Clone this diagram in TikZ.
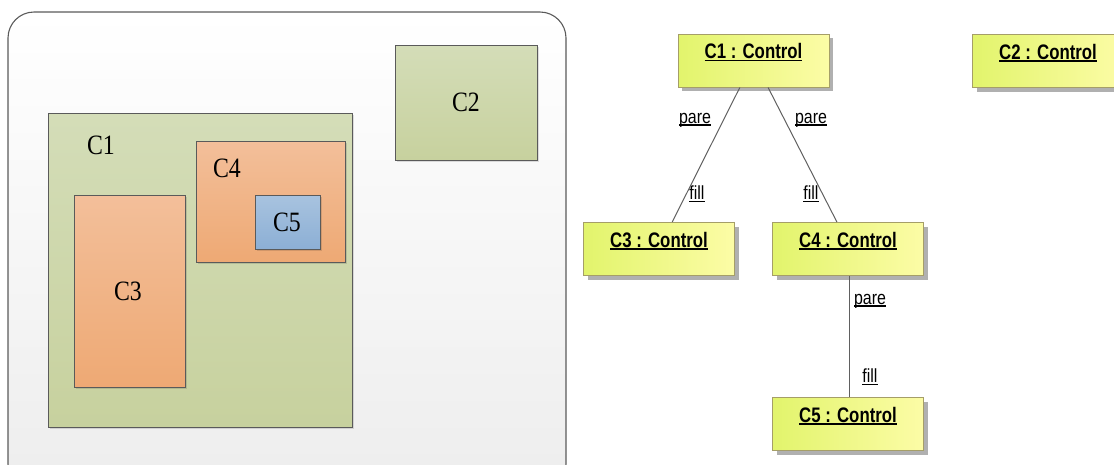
\documentclass[tikz,border=0pt]{standalone}
\usepackage{fontspec}
\setmainfont{Liberation Serif}[FakeStretch=0.85]
\newfontfamily\umlfont{Liberation Sans}[FakeStretch=0.80]
\newfontfamily\linkfont{Liberation Sans}[FakeStretch=0.84]
\usetikzlibrary{shadows,calc}

% underlined text with a thicker rule
\newcommand\ulabel[1]{\setbox0\hbox{#1}\rlap{\rule[-2.4pt]{\wd0}{1.5pt}}\box0}

\definecolor{edgegray}{HTML}{5A5A5A}
\definecolor{greentop}{HTML}{D4DDB8}
\definecolor{greenbot}{HTML}{C7D19E}
\definecolor{orangetop}{HTML}{F3BF9A}
\definecolor{orangebot}{HTML}{EEA974}
\definecolor{bluetop}{HTML}{A8C3DF}
\definecolor{bluebot}{HTML}{8CAFD5}
\definecolor{umlleft}{HTML}{E2F46C}
\definecolor{umlright}{HTML}{FCFCA6}
\definecolor{umlborder}{HTML}{A59E68}
\definecolor{umlshadow}{HTML}{B0B0B0}
\definecolor{linkgray}{HTML}{606060}

\tikzset{
  region/.style={draw=edgegray, line width=1pt, inner sep=0pt,
    drop shadow={shadow xshift=2pt, shadow yshift=-2pt, fill=black, opacity=0.12}},
  greenbox/.style={region, shading=axis, top color=greentop, bottom color=greenbot},
  orangebox/.style={region, shading=axis, top color=orangetop, bottom color=orangebot},
  bluebox/.style={region, shading=axis, top color=bluetop, bottom color=bluebot},
  regionlabel/.style={font=\fontsize{28}{30}\selectfont, inner sep=0pt},
  umlbox/.style={draw=umlborder, line width=1pt, inner sep=0pt,
    minimum width=151pt, minimum height=53pt,
    shading=axis, left color=umlleft, right color=umlright, shading angle=90,
    drop shadow={shadow xshift=4pt, shadow yshift=-4pt, fill=umlshadow, opacity=1}},
  umltext/.style={font=\umlfont\bfseries\fontsize{21}{23}\selectfont, inner sep=0pt},
  linklabel/.style={font=\linkfont\fontsize{19}{21}\selectfont, inner sep=0pt},
  link/.style={draw=linkgray, line width=1pt},
}

\begin{document}
\begin{tikzpicture}[x=1pt, y=-1pt]
\useasboundingbox (0,0) rectangle (1114,464);

% containment view
\draw[draw=edgegray, line width=1.1pt, rounded corners=26pt, shading=axis,
      top color=white, bottom color=black!7] (8,12) rectangle (566,490);

\node[greenbox, minimum width=304pt, minimum height=314pt] (r1) at (200,270) {};
\node[greenbox, minimum width=142pt, minimum height=115pt] (r2) at (466,102.5) {};
\node[orangebox, minimum width=111pt, minimum height=192pt] (r3) at (129.5,291) {};
\node[orangebox, minimum width=149pt, minimum height=121pt] (r4) at (270.5,201.5) {};
\node[bluebox, minimum width=65pt, minimum height=54pt] (r5) at (287.5,222) {};

\node[regionlabel] (l1) at (101,145) {C1};
\node[regionlabel] (l2) at (466,102) {C2};
\node[regionlabel] (l3) at (128,291) {C3};
\node[regionlabel] (l4) at (227,168) {C4};
\node[regionlabel] (l5) at (287,222) {C5};

% object view
\node[umlbox] (o1) at (753.5,60.5) {};
\node[umlbox] (o2) at (1048,61) {};
\node[umlbox] (o3) at (659,249) {};
\node[umlbox] (o4) at (848,249) {};
\node[umlbox] (o5) at (848,424) {};

\node[umltext] (t1) at ($(o1.north)+(0,19)$) {\ulabel{C1 : Control}};
\node[umltext] (t2) at ($(o2.north)+(0,19)$) {\ulabel{C2 : Control}};
\node[umltext] (t3) at ($(o3.north)+(0,19)$) {\ulabel{C3 : Control}};
\node[umltext] (t4) at ($(o4.north)+(0,19)$) {\ulabel{C4 : Control}};
\node[umltext] (t5) at ($(o5.north)+(0,19)$) {\ulabel{C5 : Control}};

\coordinate (c4foot) at ($(o4.south west)!0.507!(o4.south east)$);
\draw[link] ($(o1.south west)!0.41!(o1.south east)$) -- ($(o3.north west)!0.587!(o3.north east)$);
\draw[link] ($(o1.south west)!0.596!(o1.south east)$) -- ($(o4.north west)!0.427!(o4.north east)$);
\draw[link] (c4foot) -- (c4foot |- o5.north);

\node[linklabel] (p1) at (695,120) {\ulabel{pare}};
\node[linklabel] (p2) at (811,120) {\ulabel{pare}};
\node[linklabel] (p3) at (870,301) {\ulabel{pare}};
\node[linklabel] (f1) at (697,194) {\ulabel{fill}};
\node[linklabel] (f2) at (811,194) {\ulabel{fill}};
\node[linklabel] (f3) at (870,377) {\ulabel{fill}};
\end{tikzpicture}
\end{document}
